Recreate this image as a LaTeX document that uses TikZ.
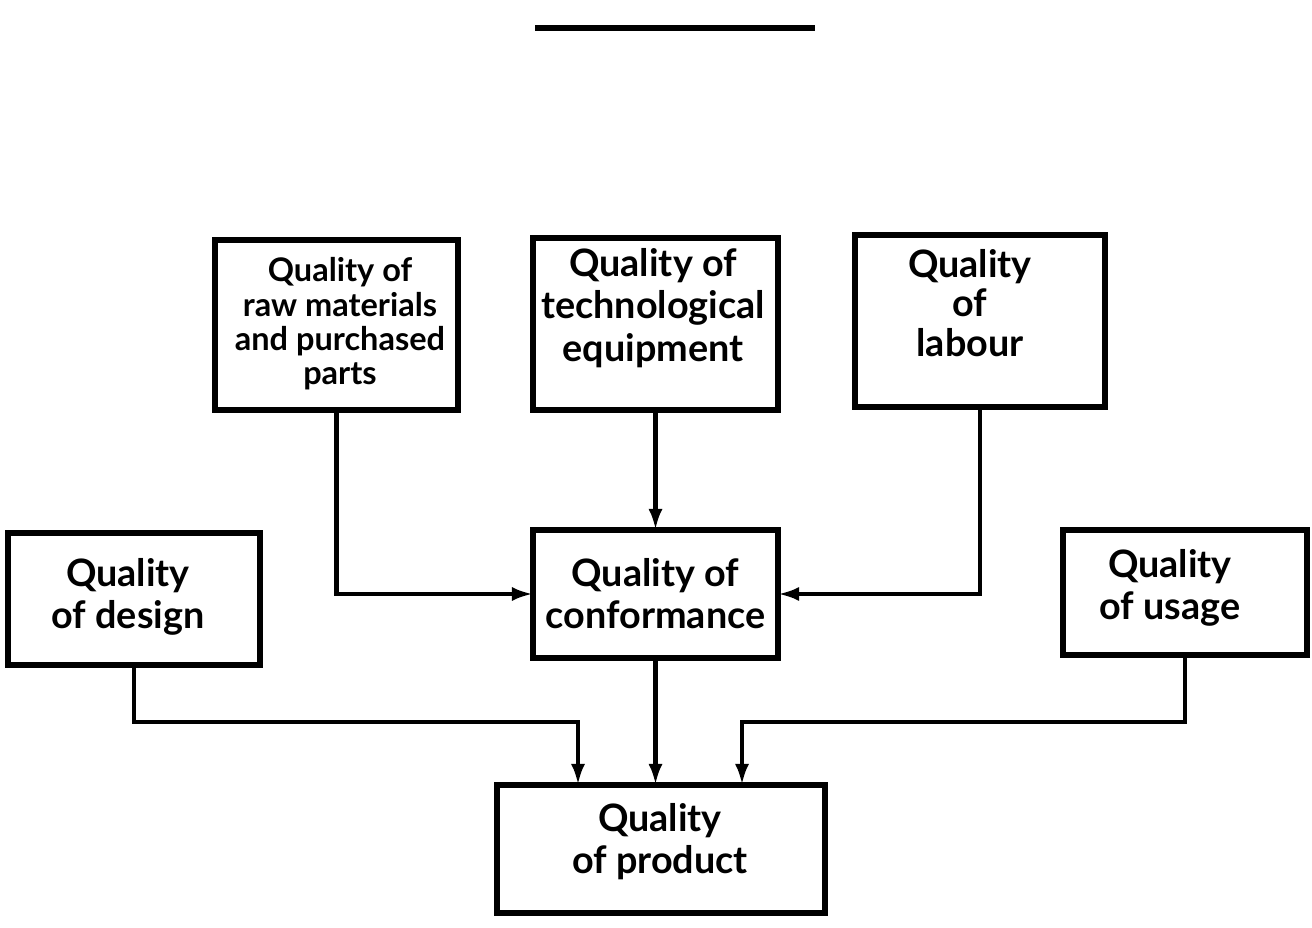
\documentclass[tikz,border=0pt]{standalone}
\usepackage{fontspec}
\setmainfont{Lato}
\usetikzlibrary{arrows.meta,positioning,calc}
\tikzset{
  box/.style={draw, line width=3pt, rectangle, outer sep=0pt, inner sep=2pt, align=center, font=\bfseries\fontsize{21.5}{24}\selectfont},
  txt/.style={align=center, inner sep=0pt, font=\bfseries\fontsize{21.5}{24}\selectfont},
  conn/.style={line width=2.6pt, -{Latex[length=12pt,width=8pt]}},
}
\begin{document}
\begin{tikzpicture}[x=0.02cm,y=-0.02cm]
\useasboundingbox (0,0) rectangle (1312,928);
% top rule
\draw[line width=3.2pt] (535,28) -- (815,28);
% boxes
\node[box, minimum width=4.86cm, minimum height=3.4cm] (raw) at (336.5,325) {};
\node[txt, font=\bfseries\fontsize{18.5}{19.5}\selectfont] (rawt) at (340,324) {Quality of\\raw materials\\and purchased\\parts};
\node[box, minimum width=4.9cm, minimum height=3.44cm] (tech) at (655.5,324) {};
\node[txt] (techt) at (653,308) {Quality of\\technological\\equipment};
\node[box, minimum width=5.0cm, minimum height=3.44cm] (labour) at (980,321) {};
\node[txt, font=\bfseries\fontsize{21.5}{22.5}\selectfont] (labourt) at (970,303) {Quality\\of\\labour};
\node[box, minimum width=4.9cm, minimum height=2.56cm] (conf) at (655.5,594) {Quality of\\conformance};
\node[box, minimum width=5.04cm, minimum height=2.64cm] (design) at (134,599) {};
\node[txt] (designt) at (128,597) {Quality\\of design};
\node[box, minimum width=4.88cm, minimum height=2.5cm] (usage) at (1185,592.5) {};
\node[txt] (usaget) at (1170,588) {Quality\\of usage};
\node[box, minimum width=6.56cm, minimum height=2.56cm] (product) at (661,849) {};
\node[txt] (productt) at (660,842) {Quality\\of product};
% connectors
\coordinate (d1) at (578,722);
\coordinate (u1) at (742,722);
\draw[conn] (raw.south) |- (conf.west);
\draw[conn] (tech.south) -- (conf.north);
\draw[conn] (labour.south) |- (conf.east);
\draw[conn] (design.south) |- (d1) -- (d1 |- product.north);
\draw[conn] (conf.south) -- (conf.south |- product.north);
\draw[conn] (usage.south) |- (u1) -- (u1 |- product.north);
\end{tikzpicture}
\end{document}
